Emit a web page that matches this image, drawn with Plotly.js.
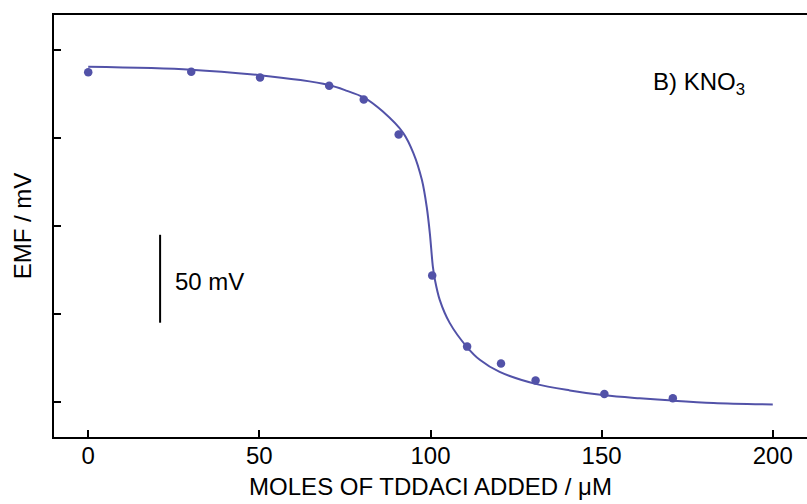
<!DOCTYPE html>
<html>
<head>
<meta charset="utf-8">
<script src="https://cdn.plot.ly/plotly-3.0.1.min.js"></script>
<style>html,body{margin:0;padding:0;background:#fff;}#chart{width:807px;height:504px;}</style>
</head>
<body>
<div id="chart"></div>
<script>
// Measured points (moles of TDDACl added, µM) and EMF (mV, arbitrary zero)
const pointX = [0, 30.1, 50.2, 70.4, 80.5, 90.7, 100.5, 110.7, 120.6, 130.7, 150.8, 170.8];
const pointY = [187.5, 187.7, 184.5, 179.7, 172.0, 152.0, 71.8, 31.4, 21.8, 12.1, 4.5, 2.1];

// Fitted curve
const curveX = [0, 30, 50, 62, 70, 75, 80.6, 86, 92, 95, 97.5, 98.9, 99.8, 100.7, 101.3, 102.7, 105.6, 110.6, 114.4, 120.2, 130.7, 140.7, 150.9, 161.1, 170.7, 182.7, 200];
const curveY = [190.5, 188.9, 185.8, 183.0, 180.3, 177.3, 173.0, 165.2, 153.0, 141.5, 126.1, 110.8, 96.0, 76.7, 69.3, 58.0, 44.9, 31.3, 23.9, 17.0, 10.2, 6.5, 3.7, 2.0, 0.7, -0.6, -1.5];

const xTicks = [0, 50, 100, 150, 200];
const yTicks = [0, 50, 100, 150, 200];

const scaleBarX = 21;
const scaleBarY = [45, 95];

const col = '#5252a8';
const font = 'Liberation Sans, Arial, sans-serif';

const traces = [
  {x: curveX, y: curveY, mode: 'lines', line: {color: col, width: 2, shape: 'spline', smoothing: 0.9}, hoverinfo: 'skip', showlegend: false},
  {x: pointX, y: pointY, mode: 'markers', marker: {color: col, size: 8.5}, showlegend: false},
  {x: [scaleBarX, scaleBarX], y: scaleBarY, mode: 'lines', line: {color: '#000', width: 2}, showlegend: false}
];

const layout = {
  width: 807, height: 504,
  margin: {l: 54, r: 0, t: 15, b: 67},
  paper_bgcolor: '#fff', plot_bgcolor: '#fff',
  font: {family: font, size: 24, color: '#000'},
  showlegend: false,
  xaxis: {
    range: [-10, 210], tickvals: xTicks, ticktext: xTicks.map(String),
    ticks: 'inside', ticklen: 7, tickwidth: 2, tickcolor: '#000',
    ticklabelstandoff: -4,
    showline: true, linewidth: 2, linecolor: '#000', mirror: true,
    showgrid: false, zeroline: false,
    tickfont: {size: 24},
    title: {text: 'MOLES OF TDDACI ADDED / μM', font: {size: 24}, standoff: 10}
  },
  yaxis: {
    range: [-20, 220], tickvals: yTicks, showticklabels: false,
    ticks: 'inside', ticklen: 7, tickwidth: 2, tickcolor: '#000',
    showline: true, linewidth: 2, linecolor: '#000', mirror: false,
    showgrid: false, zeroline: false,
    title: {text: 'EMF / mV', font: {size: 24}, standoff: 14}
  },
  annotations: [
    {x: 164.3, y: 181, xref: 'x', yref: 'y', text: 'B) KNO<sub>3</sub>', showarrow: false, xanchor: 'left', yanchor: 'middle', font: {size: 24}},
    {x: 24.8, y: 68.2, xref: 'x', yref: 'y', text: '50 mV', showarrow: false, xanchor: 'left', yanchor: 'middle', font: {size: 24}}
  ]
};

Plotly.newPlot('chart', traces, layout, {displayModeBar: false, staticPlot: true});
</script>
</body>
</html>
